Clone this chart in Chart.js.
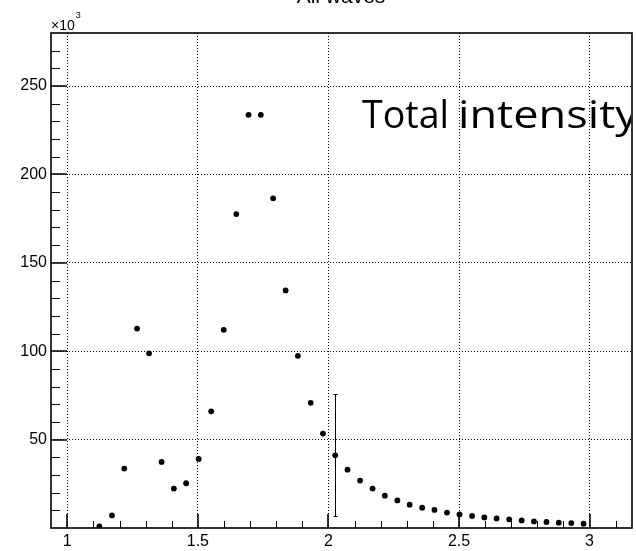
<!DOCTYPE html>
<html>
<head>
<meta charset="utf-8">
<script src="https://cdn.jsdelivr.net/npm/chart.js@4.4.1/dist/chart.umd.min.js"></script>
<style>
  html, body { margin: 0; padding: 0; background: #fff; }
  #wrap { position: relative; width: 636px; height: 551px; }
</style>
</head>
<body>
<div id="wrap"><canvas id="chart" width="636" height="551"></canvas></div>
<script>
// bin centres and counts (units of 10^3)
const xValues = [1.1225, 1.171, 1.218, 1.267, 1.313, 1.361, 1.408, 1.455, 1.503, 1.551,
                 1.599, 1.647, 1.694, 1.741, 1.788, 1.836, 1.883, 1.932, 1.979, 2.026,
                 2.073, 2.121, 2.169, 2.216, 2.264, 2.311, 2.359, 2.406, 2.454, 2.502,
                 2.550, 2.597, 2.644, 2.692, 2.740, 2.787, 2.835, 2.882, 2.930, 2.977];
const yValues = [0.9, 7.1, 33.6, 112.8, 98.8, 37.4, 22.3, 25.3, 39.1, 66.0,
                 112.1, 177.6, 233.7, 233.7, 186.5, 134.4, 97.4, 70.8, 53.4, 41.1,
                 33.0, 26.8, 22.3, 18.3, 15.6, 13.2, 11.5, 10.2, 8.7, 7.7,
                 6.8, 6.0, 5.4, 4.9, 4.3, 3.7, 3.4, 3.0, 2.8, 2.4];

// the one visible error bar
const errX = 2.026;
const errLow = 6.7;
const errHigh = 75.7;

const xMajorTicks = [1, 1.5, 2, 2.5, 3];
const xMinorTicks = [1.1, 1.2, 1.3, 1.4, 1.6, 1.7, 1.8, 1.9, 2.1, 2.2, 2.3, 2.4, 2.6, 2.7, 2.8, 2.9, 3.1];
const yMajorTicks = [50, 100, 150, 200, 250];
const yMinorTicks = [10, 20, 30, 40, 60, 70, 80, 90, 110, 120, 130, 140, 160, 170, 180, 190,
                     210, 220, 230, 240, 260, 270];

// draw a word squeezed/stretched to a given width
function fitText(ctx, text, left, base, width) {
    const w = ctx.measureText(text).width;
    ctx.save();
    ctx.translate(left, base);
    ctx.scale(width / w, 1);
    ctx.fillText(text, 0, 0);
    ctx.restore();
}

const framePlugin = {
    id: 'frame',
    afterDraw(chart) {
        const { ctx, chartArea: a, scales: { x, y } } = chart;
        ctx.save();
        ctx.strokeStyle = '#000';

        // inward ticks
        ctx.lineWidth = 1;
        ctx.beginPath();
        xMinorTicks.forEach(v => {
            const px = Math.round(x.getPixelForValue(v)) + 0.5;
            ctx.moveTo(px, a.bottom); ctx.lineTo(px, a.bottom - 7);
        });
        yMinorTicks.forEach(v => {
            const py = Math.round(y.getPixelForValue(v)) + 0.5;
            ctx.moveTo(a.left, py); ctx.lineTo(a.left + 9, py);
        });
        ctx.stroke();
        ctx.lineWidth = 1.6;
        ctx.beginPath();
        xMajorTicks.forEach(v => {
            const px = Math.round(x.getPixelForValue(v));
            ctx.moveTo(px, a.bottom); ctx.lineTo(px, a.bottom - 14);
        });
        yMajorTicks.forEach(v => {
            const py = Math.round(y.getPixelForValue(v));
            ctx.moveTo(a.left, py); ctx.lineTo(a.left + 16, py);
        });
        ctx.stroke();

        // error bar
        const ex = Math.round(x.getPixelForValue(errX)) + 0.5;
        const eLo = y.getPixelForValue(errLow), eHi = y.getPixelForValue(errHigh);
        ctx.lineWidth = 1;
        ctx.beginPath();
        ctx.moveTo(ex, eLo); ctx.lineTo(ex, eHi);
        ctx.moveTo(ex - 2, Math.round(eLo) + 0.5); ctx.lineTo(ex + 2, Math.round(eLo) + 0.5);
        ctx.moveTo(ex - 2, Math.round(eHi) + 0.5); ctx.lineTo(ex + 2, Math.round(eHi) + 0.5);
        ctx.stroke();

        // frame
        ctx.lineWidth = 1.6;
        ctx.strokeRect(a.left, a.top, a.right - a.left, a.bottom - a.top);

        // exponent label
        ctx.fillStyle = '#000';
        ctx.textBaseline = 'alphabetic';
        ctx.textAlign = 'left';
        ctx.font = '14px "Liberation Sans", Arial, sans-serif';
        ctx.fillText('\u00d710', a.left, 30);
        const w = ctx.measureText('\u00d710').width;
        ctx.font = '9px "Liberation Sans", Arial, sans-serif';
        ctx.fillText('3', a.left + w + 1, 18);

        // title, clipped by top of the page
        ctx.textAlign = 'center';
        ctx.font = '21px "Liberation Sans", Arial, sans-serif';
        ctx.fillText('All waves', 341, 3);

        // pasted label
        ctx.save();
        ctx.beginPath();
        ctx.rect(a.left, a.top, a.right - a.left - 1, a.bottom - a.top);
        ctx.clip();
        ctx.textAlign = 'left';
        ctx.font = '39px "Open Sans", sans-serif';
        fitText(ctx, 'Total', 362, 128, 87);
        fitText(ctx, 'intensity', 458, 128, 180);
        ctx.restore();

        ctx.restore();
    }
};

const tickFont = { family: '"Liberation Sans", Arial, sans-serif', size: 16 };

new Chart(document.getElementById('chart'), {
    type: 'scatter',
    data: {
        datasets: [{
            data: xValues.map((v, i) => ({ x: v, y: yValues[i] })),
            pointRadius: 2.9, pointHoverRadius: 2.9,
            pointBackgroundColor: '#000', pointBorderWidth: 0,
            showLine: false
        }]
    },
    options: {
        responsive: false, animation: false,
        layout: { padding: { top: 33, right: 4, left: 0, bottom: 0 } },
        plugins: { legend: { display: false }, tooltip: { enabled: false } },
        scales: {
            x: {
                type: 'linear', min: 0.9375, max: 3.1625,
                afterBuildTicks: s => { s.ticks = xMajorTicks.map(v => ({ value: v })); },
                afterFit: s => { s.height = 23; },
                grid: { color: '#000', lineWidth: 1, drawTicks: false },
                border: { display: false, dash: [1, 2] },
                ticks: { padding: 4, color: '#000', font: tickFont, maxRotation: 0, autoSkip: false, callback: v => String(v) }
            },
            y: {
                type: 'linear', min: 0, max: 280,
                afterBuildTicks: s => { s.ticks = yMajorTicks.map(v => ({ value: v })); },
                afterFit: s => { s.width = 51; },
                grid: { color: '#000', lineWidth: 1, drawTicks: false },
                border: { display: false, dash: [1, 2] },
                ticks: { padding: 4, color: '#000', font: tickFont, autoSkip: false, callback: v => String(v) }
            }
        }
    },
    plugins: [framePlugin]
});
</script>
</body>
</html>
